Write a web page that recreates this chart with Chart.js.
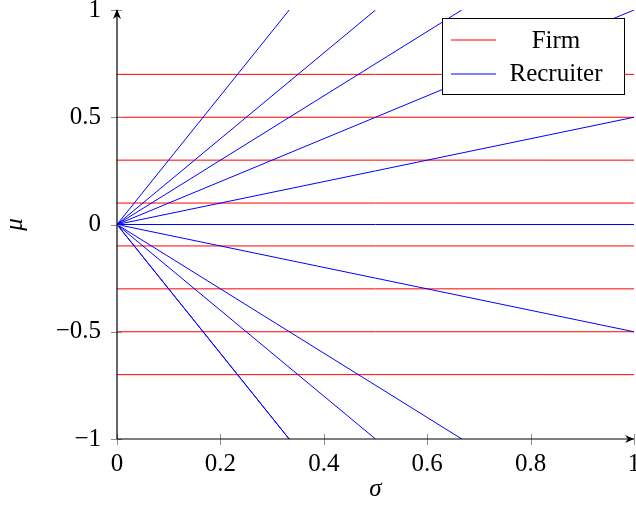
<!DOCTYPE html>
<html>
<head>
<meta charset="utf-8">
<script src="https://cdn.jsdelivr.net/npm/chart.js@4.4.1/dist/chart.umd.min.js"></script>
<style>
  html, body { margin: 0; padding: 0; background: #fff; }
</style>
</head>
<body>
<canvas id="chart" width="636" height="508"></canvas>
<script>
/* ===== Data ===== */
const firmMu = [0.7, 0.5, 0.3, 0.1, -0.1, -0.3, -0.5, -0.7];
// recruiter rays start at the origin and end at these points
const recruiterSigma = [0.333, 0.5, 0.667, 1, 1, 1, 1, 0.667, 0.5, 0.333, 0.333];
const recruiterMu = [1, 1, 1, 1, 0.5, 0, -0.5, -1, -1, -1, -1];

const xTicks = [0, 0.2, 0.4, 0.6, 0.8, 1];
const xTickLabels = ['0', '0.2', '0.4', '0.6', '0.8', '1'];
const yTicks = [-1, -0.5, 0, 0.5, 1];
const yTickLabels = ['\u22121', '\u22120.5', '0', '0.5', '1'];

const SERIF = "'Liberation Serif', 'Times New Roman', serif";
const RED = 'rgb(255,0,0)';
const BLUE = 'rgb(0,0,255)';

Chart.defaults.font.family = SERIF;
Chart.defaults.font.size = 25;
Chart.defaults.color = '#000';

/* ===== Datasets ===== */
const datasets = [];
recruiterSigma.forEach((s, i) => {
    datasets.push({
        label: 'Recruiter',
        data: [{ x: 0, y: 0 }, { x: s, y: recruiterMu[i] }],
        borderColor: BLUE, borderWidth: 1, pointRadius: 0, showLine: true
    });
});
firmMu.forEach(m => {
    datasets.push({
        label: 'Firm',
        data: [{ x: 0, y: m }, { x: 1, y: m }],
        borderColor: RED, borderWidth: 1, pointRadius: 0, showLine: true
    });
});

/* ===== Axes, arrows and legend box ===== */
const axesPlugin = {
    id: 'axesPlugin',
    afterDraw(chart) {
        const { ctx, chartArea: a, scales: { x, y } } = chart;
        const seg = (x1, y1, x2, y2, col) => {
            ctx.beginPath();
            ctx.strokeStyle = col;
            ctx.moveTo(x1, y1);
            ctx.lineTo(x2, y2);
            ctx.stroke();
        };
        ctx.save();

        // tick marks crossing the axis lines
        ctx.lineWidth = 1;
        xTicks.forEach(v => {
            const px = Math.round(x.getPixelForValue(v)) + 0.5;
            seg(px, a.bottom - 5, px, a.bottom + 6, '#8c8c8c');
        });
        yTicks.forEach(v => {
            const py = Math.round(y.getPixelForValue(v)) + 0.5;
            seg(a.left - 6, py, a.left + 5, py, '#8c8c8c');
        });

        // axis lines
        ctx.lineWidth = 1.2;
        const ax = a.left, ay = a.bottom;
        seg(ax, ay, ax, a.top, '#000');
        seg(ax, ay, a.right, ay, '#000');

        // arrow heads
        ctx.fillStyle = '#000';
        ctx.beginPath();
        ctx.moveTo(ax, a.top - 1);
        ctx.lineTo(ax - 4, a.top + 9);
        ctx.lineTo(ax, a.top + 6);
        ctx.lineTo(ax + 4, a.top + 9);
        ctx.closePath();
        ctx.fill();
        ctx.beginPath();
        ctx.moveTo(a.right, ay);
        ctx.lineTo(a.right - 9, ay - 4);
        ctx.lineTo(a.right - 6, ay);
        ctx.lineTo(a.right - 9, ay + 4);
        ctx.closePath();
        ctx.fill();

        // legend
        const bx = 442.5, by = 18.5, bw = 182, bh = 76;
        ctx.fillStyle = '#fff';
        ctx.fillRect(bx, by, bw, bh);
        ctx.lineWidth = 1;
        ctx.strokeStyle = '#000';
        ctx.strokeRect(bx, by, bw, bh);

        ctx.lineWidth = 1.2;
        seg(451, 40, 496, 40, RED);
        seg(451, 74, 496, 74, BLUE);

        ctx.font = '25px ' + SERIF;
        ctx.textAlign = 'center';
        ctx.textBaseline = 'alphabetic';
        ctx.fillStyle = '#000';
        ctx.fillText('Firm', 556, 48);
        ctx.fillText('Recruiter', 556, 81);
        ctx.restore();
    }
};

new Chart(document.getElementById('chart'), {
    type: 'scatter',
    data: { datasets },
    options: {
        responsive: false,
        animation: false,
        devicePixelRatio: 1,
        layout: { padding: { top: 10, right: 2, left: 0, bottom: 0 } },
        plugins: { legend: { display: false }, tooltip: { enabled: false } },
        scales: {
            x: {
                type: 'linear', min: 0, max: 1,
                grid: { display: false, drawTicks: false },
                border: { display: false },
                afterBuildTicks: s => { s.ticks = xTicks.map(v => ({ value: v })); },
                afterFit: s => { s.height = 69; s.paddingLeft = 0; s.paddingRight = 0; },
                ticks: { padding: 10, maxRotation: 0, autoSkip: false, callback: (v, i) => xTickLabels[i] },
                title: { display: true, text: 'σ', font: { style: 'italic', size: 25 }, padding: { top: 0, bottom: 4 } }
            },
            y: {
                type: 'linear', min: -1, max: 1,
                grid: { display: false, drawTicks: false },
                border: { display: false },
                afterBuildTicks: s => { s.ticks = yTicks.map(v => ({ value: v })); },
                afterFit: s => { s.width = 117; s.paddingTop = 0; s.paddingBottom = 0; },
                ticks: { padding: 16, autoSkip: false, callback: (v, i) => yTickLabels[i] },
                title: { display: true, text: 'μ', font: { style: 'italic', size: 25 }, padding: { top: 0, bottom: 0 } }
            }
        }
    },
    plugins: [axesPlugin]
});
</script>
</body>
</html>
